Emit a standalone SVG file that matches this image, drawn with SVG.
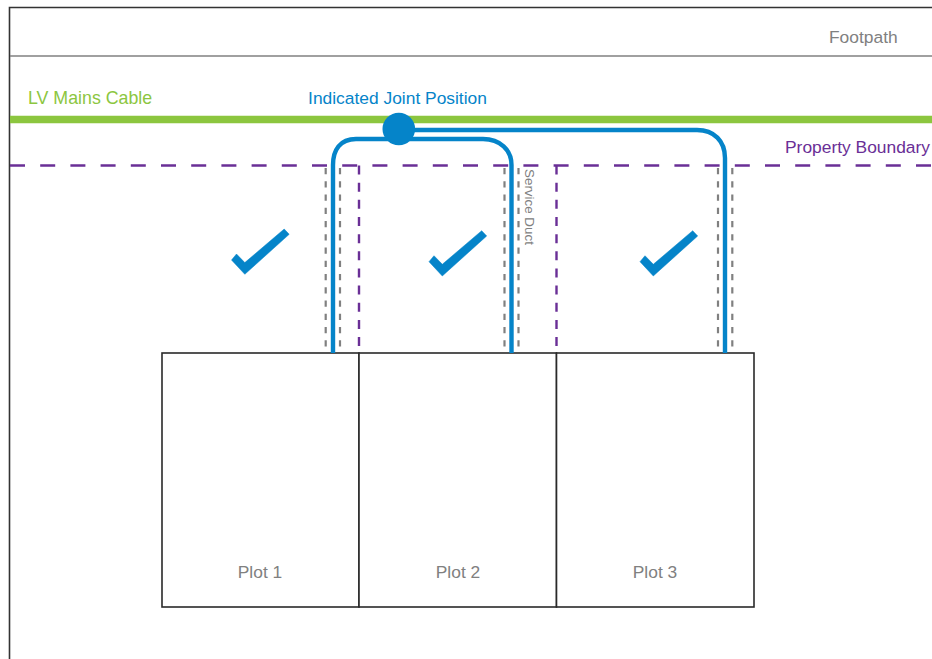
<svg xmlns="http://www.w3.org/2000/svg" width="932" height="659" viewBox="0 0 932 659">
<style>
text{font-family:"Liberation Sans",Arial,sans-serif;font-size:17.4px}
.g{fill:#808080}
.plot{fill:#fff;stroke:#2a2a2a;stroke-width:1.6}
.duct{fill:none;stroke:#808080;stroke-width:2.2;stroke-dasharray:6.2 7.05}
.pb{fill:none;stroke:#6a2f96;stroke-width:2.4;stroke-dasharray:15 15.2}
.pbv{fill:none;stroke:#6a2f96;stroke-width:2.4;stroke-dasharray:9 8.16}
.cable{fill:none;stroke:#0584c9;stroke-width:4.4}
.tick{fill:#0584c9;stroke:#0584c9;stroke-width:0.5}
</style>
<defs><path id="tick" d="M481.7 230.700L486.700 236L442.300 276L429 261.700L434 255.700L442.300 264.300Z"/></defs>
<g id="site">
<path d="M932 7.500H9.500V659" fill="none" stroke="#333" stroke-width="1.600"/>
<path d="M10 56H932" stroke="#808080" stroke-width="1.600"/>
<text id="footpath" class="g" x="829" y="43">Footpath</text>
</g>
<g id="mains">
<path d="M10 119.500H932" stroke="#8cc63f" stroke-width="7.400"/>
<text x="28" y="103.500" fill="#8cc63f" style="font-size:17.8px">LV Mains Cable</text>
</g>
<g id="boundary">
<path class="pb" d="M10 165.500H932"/>
<path class="pbv" d="M359 165.500V352"/>
<path class="pbv" d="M556.500 165.500V352"/>
<text x="785" y="153" fill="#6a2f96">Property Boundary</text>
</g>
<g id="plot1"><rect class="plot" x="162" y="353" width="197" height="254"/><text class="g" x="260" y="577.500" text-anchor="middle">Plot 1</text></g>
<g id="plot2"><rect class="plot" x="359" y="353" width="197.500" height="254"/><text class="g" x="458" y="577.500" text-anchor="middle">Plot 2</text></g>
<g id="plot3"><rect class="plot" x="556.500" y="353" width="197.500" height="254"/><text class="g" x="655" y="577.500" text-anchor="middle">Plot 3</text></g>
<g id="connectors">
<path class="duct" d="M325.700 168V352"/>
<path class="duct" d="M340 168V352"/>
<path class="duct" d="M504.500 168V352"/>
<path class="duct" d="M518.500 168V352"/>
<path class="duct" d="M718 168V352"/>
<path class="duct" d="M732.300 168V352"/>
<path class="cable" d="M333 353V165C333 150 340 139 356 139H483C500 139 511.500 150 511.500 165V353"/>
<path class="cable" d="M399 130H697C714 130 725 141 725 158V353"/>
</g>
<g id="joint">
<circle cx="398.800" cy="129" r="16.300" fill="#0584c9"/>
<text x="397.500" y="104" text-anchor="middle" fill="#0584c9">Indicated Joint Position</text>
</g>
<g id="ticks">
<use class="tick" href="#tick" x="-197.500" y="-1.700"/>
<use class="tick" href="#tick"/>
<use class="tick" href="#tick" x="211"/>
</g>
<text class="g" transform="translate(525 169) rotate(90)" style="font-size:13.400px">Service Duct</text>
</svg>
